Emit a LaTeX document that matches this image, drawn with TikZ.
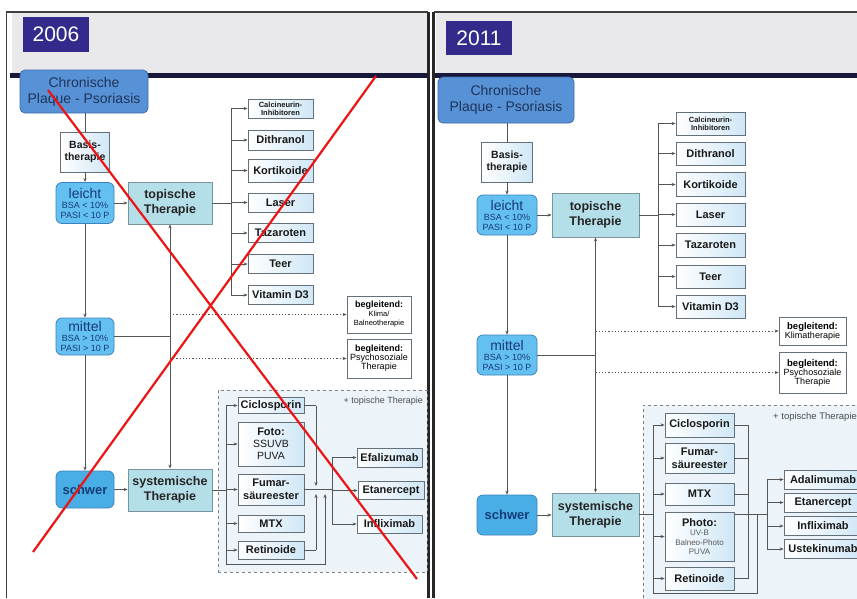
\documentclass[tikz,border=0pt]{standalone}
\usepackage{fontspec}
\setmainfont{Liberation Sans}
\usetikzlibrary{arrows.meta}

\definecolor{headgray}{RGB}{233,233,236}
\definecolor{barnavy}{RGB}{24,24,60}
\definecolor{yearfill}{RGB}{52,42,140}
\definecolor{chronfill}{RGB}{88,146,214}
\definecolor{chronedge}{RGB}{60,108,170}
\definecolor{chrontext}{RGB}{30,52,90}
\definecolor{gradefill}{RGB}{100,192,240}
\definecolor{heavyfill}{RGB}{74,174,230}
\definecolor{gradeedge}{RGB}{60,130,190}
\definecolor{gradetext}{RGB}{22,60,120}
\definecolor{therfill}{RGB}{180,222,232}
\definecolor{theredge}{RGB}{120,148,158}
\definecolor{itemblue}{RGB}{208,231,246}
\definecolor{itemedge}{RGB}{100,112,122}
\definecolor{regionfill}{RGB}{236,244,250}
\definecolor{linegray}{RGB}{85,85,85}
\definecolor{xred}{RGB}{236,20,20}

\newcommand{\fsz}[2]{\fontsize{#1}{#2}\selectfont}

\begin{document}
\begin{tikzpicture}[
  x=1pt, y=-1pt,
  conn/.style={draw=linegray, line width=0.8pt},
  arr/.style={conn, -{Stealth[length=4pt,width=3.2pt]}},
  dotline/.style={arr, dash pattern=on 1.2pt off 2pt, line width=1pt},
  chron/.style={rounded corners=5pt, draw=chronedge, line width=0.8pt, fill=chronfill, text=chrontext, align=center, inner sep=0pt, font=\fsz{14}{16}},
  grade/.style={rounded corners=6pt, draw=gradeedge, line width=0.8pt, fill=gradefill, text=gradetext, align=center, inner sep=0pt, font=\fsz{9}{10}},
  ther/.style={draw=theredge, line width=0.8pt, fill=therfill, text=black!85, align=center, inner sep=0pt, font=\bfseries\fsz{12.5}{15}},
  item/.style={draw=itemedge, line width=0.8pt, left color=white, right color=itemblue, text=black!90, align=center, inner sep=0pt, font=\bfseries\fsz{11}{13}},
  note/.style={draw=itemedge, line width=0.8pt, fill=white, align=center, inner sep=0pt, font=\fsz{7.5}{9}},
  region/.style={draw=gray, dashed, line width=0.7pt, fill=regionfill, inner sep=0pt},
  year/.style={fill=yearfill, text=white, inner sep=0pt, font=\fsz{21}{21}},
  cross/.style={draw=xred, line width=2.2pt},
]
\useasboundingbox (0,0) rectangle (857,598);

% Rahmen und Kopfleiste
\fill[white] (0,0) rectangle (857,598);
\fill[headgray] (12,13) rectangle (427,73);
\fill[headgray] (436,13) rectangle (857,73);
\fill[barnavy] (10,73) rectangle (427,78);
\fill[barnavy] (434,73) rectangle (857,78);
\draw[line width=1.2pt, black!75] (6.5,598) -- (6.5,12) -- (428,12);
\draw[line width=1.2pt, black!75] (434,12) -- (857,12);
\draw[line width=2.2pt, black!85] (428.5,12) -- (428.5,598);
\draw[line width=2.2pt, black!85] (433.5,12) -- (433.5,598);

\node[year, minimum width=66pt, minimum height=35pt] (yearL) at (56,34.5) {2006};
\node[year, minimum width=66pt, minimum height=34pt] (yearR) at (479,38) {2011};

% ---- 2006 ----
\node[chron, minimum width=128pt, minimum height=43pt] (chronL) at (84,91.5) {Chronische\\Plaque - Psoriasis};
\node[item, font=\bfseries\fsz{10.5}{12}, minimum width=49pt, minimum height=40pt] (basisL) at (85,152) {Basis-\\therapie};
\node[grade, minimum width=58pt, minimum height=41pt] (leichtL) at (85,203) {{\fsz{14}{14}leicht}\\BSA < 10\%\\PASI < 10 P};
\node[ther, minimum width=84pt, minimum height=42pt] (topL) at (170,203) {topische\\Therapie};

\node[item, font=\bfseries\fsz{7.5}{8}, minimum width=65pt, minimum height=19pt] (calcL) at (280.5,108.5) {Calcineurin-\\Inhibitoren};
\node[item, minimum width=65pt, minimum height=20pt] (dithL) at (280.5,140) {Dithranol};
\node[item, minimum width=65pt, minimum height=23pt] (kortL) at (280.5,170.5) {Kortikoide};
\node[item, minimum width=65pt, minimum height=19pt] (laserL) at (280.5,202.5) {Laser};
\node[item, minimum width=65pt, minimum height=19pt] (tazL) at (280.5,233) {Tazaroten};
\node[item, minimum width=65pt, minimum height=19pt] (teerL) at (280.5,264) {Teer};
\node[item, minimum width=65pt, minimum height=19pt] (vitL) at (280.5,295) {Vitamin D3};

\node[grade, minimum width=58pt, minimum height=37pt] (mittelL) at (85,336.5) {{\fsz{14}{14}mittel}\\BSA > 10\%\\PASI > 10 P};
\node[note, minimum width=64pt, minimum height=37pt] (begKlimaL) at (379,314.5) {{\bfseries\fsz{9}{10}begleitend:}\\Klima/\\Balneotherapie};
\node[note, minimum width=64pt, minimum height=39pt] (begPsyL) at (379,358.5) {{\bfseries\fsz{9}{10}begleitend:}\\{\fsz{9}{10}Psychosoziale}\\{\fsz{9}{10}Therapie}};

\node[grade, fill=heavyfill, font=\bfseries\fsz{13}{14}, minimum width=58pt, minimum height=37pt] (schwerL) at (85,489.5) {schwer};
\node[ther, minimum width=84pt, minimum height=42pt] (sysL) at (170,490) {systemische\\Therapie};

\node[region, minimum width=209pt, minimum height=182pt] (regionL) at (322.5,481) {};
\node[anchor=east, inner sep=0pt, text=black!70, font=\fsz{9}{10}] (plusL) at (423,401) {+ topische Therapie};
\node[item, minimum width=66pt, minimum height=16pt] (ciclL) at (271,405.5) {Ciclosporin};
\node[item, font=\bfseries\fsz{11}{12}, minimum width=66pt, minimum height=44pt] (fotoL) at (271,444) {Foto:\\{\mdseries\fsz{10.5}{12}SSUVB}\\{\mdseries\fsz{10.5}{12}PUVA}};
\node[item, minimum width=66pt, minimum height=31pt] (fumL) at (271,489.5) {Fumar-\\säureester};
\node[item, minimum width=66pt, minimum height=17pt] (mtxL) at (271,523.5) {MTX};
\node[item, minimum width=66pt, minimum height=18pt] (retiL) at (271,550) {Retinoide};
\node[item, minimum width=65pt, minimum height=19pt] (efaL) at (389.5,457.5) {Efalizumab};
\node[item, minimum width=66pt, minimum height=18pt] (etaL) at (391,490.5) {Etanercept};
\node[item, minimum width=65pt, minimum height=18pt] (infL) at (389.5,524) {Infliximab};

\coordinate (tbusL) at (231,0);
\coordinate (sbusL) at (226,0);
\coordinate (rbusL) at (316,0);
\coordinate (bbusL) at (332,0);
\coordinate (loopL) at (325,564);
\coordinate (loopendL) at (325,494);
\coordinate (jointL) at (316,490);

\draw[conn] (chronL.south -| basisL.north) -- (basisL.north);
\draw[arr] (basisL) -- (leichtL);
\draw[arr] (leichtL) -- (mittelL);
\draw[arr] (mittelL) -- (schwerL);
\draw[arr] (leichtL) -- (topL);
\draw[arr] (schwerL.east) -- (schwerL.east -| sysL.west);
\draw[{Stealth[length=4pt,width=3.2pt]}-{Stealth[length=4pt,width=3.2pt]}, conn] (topL) -- (sysL);
\draw[conn] (mittelL.east) -- (mittelL.east -| topL.south);
\draw[dotline] (topL.south |- begKlimaL) -- (begKlimaL.west);
\draw[dotline] (topL.south |- begPsyL) -- (begPsyL.west);

\draw[conn] (topL.east) -- (tbusL |- topL);
\draw[conn] (tbusL |- calcL) -- (tbusL |- vitL);
\foreach \n in {calcL,dithL,kortL,laserL,tazL,teerL,vitL}
  \draw[arr] (tbusL |- \n) -- (\n.west);

\draw[conn] (sysL.east) -- (sbusL |- sysL);
\draw[arr] (sbusL |- ciclL) -- (sbusL |- loopL) -- (loopL) -- (loopendL);
\foreach \n in {ciclL,fotoL,fumL,mtxL,retiL}
  \draw[arr] (sbusL |- \n) -- (\n.west);
\draw[conn] (ciclL.east) -- (rbusL |- ciclL);
\draw[arr] (rbusL |- ciclL) -- ([yshift=4pt]jointL);
\draw[conn] (retiL.east) -- (rbusL |- retiL);
\draw[arr] (rbusL |- retiL) -- ([yshift=-4pt]jointL);
\draw[conn] (fumL.east) -- (bbusL |- fumL);
\draw[conn] (bbusL |- efaL) -- (bbusL |- infL);
\foreach \n in {efaL,etaL,infL}
  \draw[arr] (bbusL |- \n) -- (\n.west);

% ---- 2011 ----
\node[chron, minimum width=136pt, minimum height=46pt] (chronR) at (506,100) {Chronische\\Plaque - Psoriasis};
\node[item, font=\bfseries\fsz{10.5}{12}, minimum width=51pt, minimum height=40pt] (basisR) at (507,162) {Basis-\\therapie};
\node[grade, minimum width=60pt, minimum height=40pt] (leichtR) at (507,215) {{\fsz{14}{14}leicht}\\BSA < 10\%\\PASI < 10 P};
\node[ther, minimum width=87pt, minimum height=44pt] (topR) at (595.5,215) {topische\\Therapie};

\node[item, font=\bfseries\fsz{7.5}{8}, minimum width=69pt, minimum height=23pt] (calcR) at (710.5,123.5) {Calcineurin-\\Inhibitoren};
\node[item, minimum width=69pt, minimum height=23pt] (dithR) at (710.5,153.5) {Dithranol};
\node[item, minimum width=69pt, minimum height=24pt] (kortR) at (710.5,184.5) {Kortikoide};
\node[item, minimum width=69pt, minimum height=23pt] (laserR) at (710.5,214.5) {Laser};
\node[item, minimum width=69pt, minimum height=24pt] (tazR) at (710.5,245) {Tazaroten};
\node[item, minimum width=69pt, minimum height=23pt] (teerR) at (710.5,276.5) {Teer};
\node[item, minimum width=69pt, minimum height=23pt] (vitR) at (710.5,306.5) {Vitamin D3};

\node[grade, minimum width=60pt, minimum height=40pt] (mittelR) at (507,355) {{\fsz{14}{14}mittel}\\BSA > 10\%\\PASI > 10 P};
\node[note, minimum width=67pt, minimum height=28pt] (begKlimaR) at (812.5,331) {{\bfseries\fsz{9.5}{11}begleitend:}\\{\fsz{9}{10}Klimatherapie}};
\node[note, minimum width=67pt, minimum height=41pt] (begPsyR) at (812.5,372.5) {{\bfseries\fsz{9.5}{11}begleitend:}\\{\fsz{9}{10}Psychosoziale}\\{\fsz{9}{10}Therapie}};

\node[grade, fill=heavyfill, font=\bfseries\fsz{13}{14}, minimum width=60pt, minimum height=40pt] (schwerR) at (507,515) {schwer};
\node[ther, minimum width=87pt, minimum height=43pt] (sysR) at (595.5,514.5) {systemische\\Therapie};

\node[region, minimum width=219pt, minimum height=200pt] (regionR) at (752.5,505) {};
\node[anchor=west, inner sep=0pt, text=black!70, font=\fsz{9.5}{10}] (plusR) at (773,417) {+ topische Therapie};
\node[item, minimum width=69pt, minimum height=24pt] (ciclR) at (699.5,425) {Ciclosporin};
\node[item, minimum width=69pt, minimum height=30pt] (fumR) at (699.5,458) {Fumar-\\säureester};
\node[item, minimum width=69pt, minimum height=22pt] (mtxR) at (699.5,494) {MTX};
\node[item, font=\bfseries\fsz{11}{9.5}, minimum width=69pt, minimum height=49pt] (photoR) at (699.5,536.5) {Photo:\\{\mdseries\color{black!65}\fsz{8}{9.5}UV-B}\\{\mdseries\color{black!65}\fsz{8}{9.5}Balneo-Photo}\\{\mdseries\color{black!65}\fsz{8}{9.5}PUVA}};
\node[item, minimum width=69pt, minimum height=23pt] (retiR) at (699.5,578.5) {Retinoide};
\node[item, minimum width=78pt, minimum height=19pt] (adaR) at (823,479.5) {Adalimumab};
\node[item, minimum width=78pt, minimum height=19pt] (etaR) at (823,502.5) {Etanercept};
\node[item, minimum width=78pt, minimum height=19pt] (infR) at (823,526) {Infliximab};
\node[item, minimum width=78pt, minimum height=19pt] (ustR) at (823,549) {Ustekinumab};

\coordinate (tbusR) at (658,0);
\coordinate (sbusR) at (653,0);
\coordinate (rbusR) at (748,0);
\coordinate (bbusR) at (767,0);
\coordinate (loopR) at (757,593);
\coordinate (jointR) at (767,514);

\draw[conn] (chronR.south -| basisR.north) -- (basisR.north);
\draw[arr] (basisR) -- (leichtR);
\draw[arr] (leichtR) -- (mittelR);
\draw[arr] (mittelR) -- (schwerR);
\draw[arr] (leichtR) -- (topR);
\draw[arr] (schwerR.east) -- (schwerR.east -| sysR.west);
\draw[{Stealth[length=4pt,width=3.2pt]}-{Stealth[length=4pt,width=3.2pt]}, conn] (topR) -- (sysR);
\draw[conn] (mittelR.east) -- (mittelR.east -| topR.south);
\draw[dotline] (topR.south |- begKlimaR) -- (begKlimaR.west);
\draw[dotline] (topR.south |- begPsyR) -- (begPsyR.west);

\draw[conn] (topR.east) -- (tbusR |- topR);
\draw[conn] (tbusR |- calcR) -- (tbusR |- vitR);
\foreach \n in {calcR,dithR,kortR,laserR,tazR,teerR,vitR}
  \draw[arr] (tbusR |- \n) -- (\n.west);

\draw[conn] (sysR.east) -- (sbusR |- sysR);
\draw[conn] (sbusR |- ciclR) -- (sbusR |- loopR) -- (loopR) -- (loopR |- jointR);
\foreach \n in {ciclR,fumR,mtxR,photoR,retiR}
  \draw[arr] (sbusR |- \n) -- (\n.west);
\draw[conn] (rbusR |- ciclR) -- (rbusR |- retiR);
\foreach \n in {ciclR,fumR,mtxR,retiR}
  \draw[conn] (\n.east) -- (rbusR |- \n);
\draw[conn] (photoR.east |- jointR) -- (jointR);
\draw[conn] (bbusR |- adaR) -- (bbusR |- ustR);
\foreach \n in {adaR,etaR,infR,ustR}
  \draw[arr] (bbusR |- \n) -- (\n.west);

% Durchgestrichen
\draw[cross] (48,90) -- (417,579);
\draw[cross] (376,76) -- (33,552);

\end{tikzpicture}
\end{document}
